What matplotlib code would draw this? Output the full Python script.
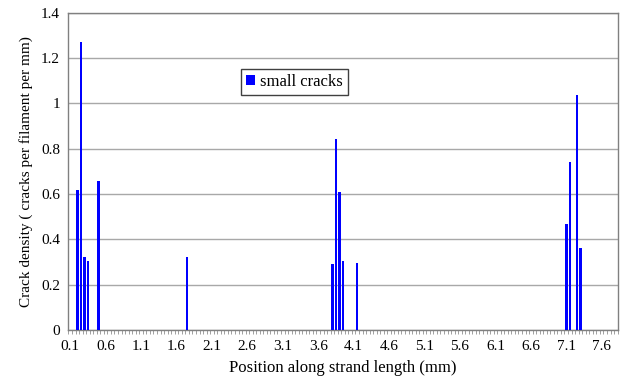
import numpy as np
import matplotlib.pyplot as plt
from matplotlib.ticker import FixedLocator

# Crack positions (mm) and densities (cracks per filament per mm)
positions = [0.2, 0.25, 0.3, 0.35, 0.5, 1.75,
             3.8, 3.85, 3.9, 3.95, 4.15,
             7.1, 7.15, 7.25, 7.3]
density = [0.617, 1.27, 0.32, 0.305, 0.659, 0.322,
           0.292, 0.844, 0.608, 0.305, 0.295,
           0.468, 0.743, 1.035, 0.363]

tick_labels = ['0.1', '0.6', '1.1', '1.6', '2.1', '2.6', '3.1', '3.6',
               '4.1', '4.6', '5.1', '5.6', '6.1', '6.6', '7.1', '7.6']
step = 0.05
first, last = 0.1, 7.8

plt.rcParams['font.family'] = 'Liberation Serif'

fig = plt.figure(figsize=(6.22, 3.8), dpi=100)
ax = fig.add_axes([0.110, 0.1316, 0.883, 0.835])

ax.bar(positions, density, width=0.035, color='#0000ff', label='small cracks', zorder=3)

# Format
ax.set_xlim(first - step / 2, last + step / 2)
ax.set_ylim(0, 1.4)
ax.set_yticks(np.arange(0, 1.41, 0.2))
ax.set_yticklabels(['0', '0.2', '0.4', '0.6', '0.8', '1', '1.2', '1.4'])
ax.set_xticks([float(t) for t in tick_labels])
ax.set_xticklabels(tick_labels)
ax.xaxis.set_minor_locator(FixedLocator(np.arange(first - step / 2, last + step, step)))
ax.tick_params(axis='x', which='major', length=0, pad=7, labelsize=11)
ax.tick_params(axis='x', which='minor', length=3, color='#909090', direction='out')
ax.tick_params(axis='y', length=0, pad=6, labelsize=11)

ax.yaxis.grid(True, color='#a8a8a8', linewidth=1)
ax.set_axisbelow(True)
for side in ax.spines.values():
    side.set_color('#808080')
    side.set_linewidth(1)

ax.set_xlabel('Position along strand length (mm)', fontsize=12, labelpad=5)
ax.set_ylabel('Crack density ( cracks per filament per mm)', fontsize=11, labelpad=6)

ax.legend(loc='upper left', bbox_to_anchor=(0.314, 0.823), borderaxespad=0,
          fancybox=False, edgecolor='#404040', framealpha=1, fontsize=12,
          handlelength=0.55, handleheight=0.55, handletextpad=0.3,
          borderpad=0.3)

fig.savefig('out.png', dpi=100)
